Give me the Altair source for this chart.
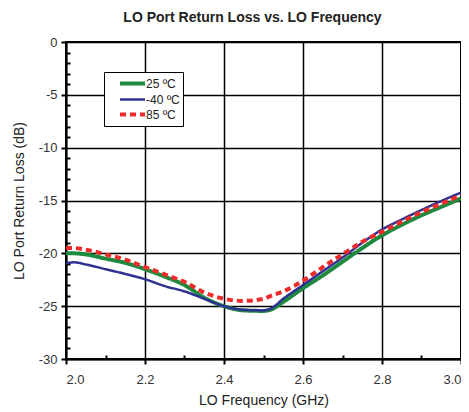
import altair as alt
import pandas as pd

freq = [2.00, 2.02, 2.05, 2.10, 2.15, 2.20, 2.25, 2.30, 2.35, 2.40, 2.45, 2.50,
        2.52, 2.55, 2.60, 2.65, 2.70, 2.75, 2.80, 2.85, 2.90, 2.95, 3.00]
rl_25 = [-20.0, -20.0, -20.1, -20.5, -20.9, -21.5, -22.2, -23.0, -24.2, -25.0, -25.4, -25.45,
         -25.3, -24.6, -23.3, -22.1, -20.8, -19.5, -18.3, -17.3, -16.4, -15.6, -14.8]
rl_m40 = [-20.95, -20.85, -21.05, -21.5, -21.95, -22.45, -23.1, -23.6, -24.3, -25.0, -25.35, -25.4,
          -25.2, -24.3, -23.0, -21.7, -20.4, -19.0, -17.75, -16.8, -15.9, -15.05, -14.25]
rl_85 = [-19.5, -19.5, -19.65, -20.1, -20.6, -21.3, -22.0, -22.7, -23.7, -24.3, -24.5, -24.3,
         -24.0, -23.6, -22.6, -21.3, -20.1, -18.9, -17.95, -17.0, -16.1, -15.3, -14.5]

names = ["25 \u00baC", "-40 \u00baC", "85 \u00baC"]
colors = ["#1e8a3e", "#2e3192", "#ee2a2a"]
dashes = [[1, 0], [1, 0], [6, 4]]
widths = [4, 2.5, 4]

major_x = [2.0, 2.2, 2.4, 2.6, 2.8, 3.0]
minor_x = [2.1, 2.3, 2.5, 2.7, 2.9]
major_y = [-30, -25, -20, -15, -10, -5, 0]
minor_y = [v for v in range(-29, 0) if v % 5 != 0]

rows = []
for name, vals in zip(names, [rl_25, rl_m40, rl_85]):
    for i, (f, v) in enumerate(zip(freq, vals)):
        rows.append({"freq": f, "rl": v, "series": name, "idx": i})
df = pd.DataFrame(rows)

FONT = "Liberation Sans"
x_scale = alt.Scale(domain=[2.0, 3.0], nice=False, zero=False)
y_scale = alt.Scale(domain=[-30, 0], nice=False, zero=False)

leg = alt.Legend(
    title=None, orient="none", legendX=38, legendY=30,
    symbolType="M-2,0L2,0", symbolSize=156, labelFont=FONT, labelFontSize=12,
    labelColor="#222", strokeColor="black", fillColor="white",
    padding=3, rowPadding=0, labelOffset=5, symbolOffset=17, labelLimit=140,
    labelExpr="datum.label + '\u2007\u2007\u2007\u2007\u2007'",
)

lines = alt.Chart(df).mark_line(interpolate="monotone").encode(
    x=alt.X("freq:Q", scale=x_scale, axis=alt.Axis(
        title="LO Frequency (GHz)", values=major_x, format=".1f", orient="bottom",
        tickSize=5, tickWidth=2, tickColor="black", grid=True,
        labelPadding=9, titlePadding=7)),
    y=alt.Y("rl:Q", scale=y_scale, axis=alt.Axis(
        title="LO Port Return Loss (dB)", values=major_y, orient="left",
        labelExpr="toString(datum.value)",
        tickSize=5, tickWidth=2, tickColor="black", grid=True,
        labelPadding=4, titlePadding=12)),
    color=alt.Color("series:N", scale=alt.Scale(domain=names, range=colors), legend=leg),
    strokeDash=alt.StrokeDash("series:N", scale=alt.Scale(domain=names, range=dashes), legend=leg),
    strokeWidth=alt.StrokeWidth("series:N", scale=alt.Scale(type="ordinal", domain=names, range=widths), legend=leg),
    order=alt.Order("idx:Q"),
)

minor = alt.Chart(df).mark_line(opacity=0).encode(
    x=alt.X("freq:Q", scale=x_scale, axis=alt.Axis(
        title=None, values=minor_x, labels=False, domain=False, grid=False,
        tickSize=4, tickWidth=2, tickColor="black", offset=-4, orient="bottom")),
    y=alt.Y("rl:Q", scale=y_scale, axis=alt.Axis(
        title=None, values=minor_y, labels=False, domain=False, grid=False,
        tickSize=4, tickWidth=2, tickColor="black", offset=-4, orient="left")),
    detail="series:N",
)

chart = alt.layer(minor, lines).resolve_axis(
    x="independent", y="independent"
).properties(
    width=395, height=317,
    autosize=alt.AutoSizeParams(type="none"),
    padding={"left": 58, "top": 34, "right": 0, "bottom": 52},
    title=alt.TitleParams(
        "LO Port Return Loss vs. LO Frequency", font=FONT, fontSize=14,
        fontWeight="bold", color="#222", offset=11, dx=-11, anchor="middle"),
).configure_view(
    stroke="black", strokeWidth=2
).configure_axis(
    domainColor="black", domainWidth=2, gridColor="black", gridWidth=1.5,
    gridOpacity=1, labelFont=FONT, labelFontSize=13, labelColor="#333",
    titleFont=FONT, titleFontSize=14, titleFontWeight="normal", titleColor="#222",
)

chart.save("out.html", embed_options={"renderer": "svg", "actions": False})
